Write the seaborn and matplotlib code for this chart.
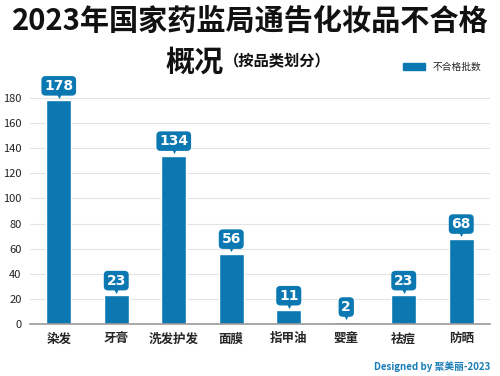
import numpy as np
import pandas as pd
import seaborn as sns
import matplotlib.pyplot as plt
import matplotlib.transforms as mtrans
from matplotlib.patches import Patch

# 数据
categories = ['染发', '牙膏', '洗发护发', '面膜', '指甲油', '婴童', '祛痘', '防晒']
counts = [178, 23, 134, 56, 11, 2, 23, 68]
yticks = [0, 20, 40, 60, 80, 100, 120, 140, 160, 180]

df = pd.DataFrame({'品类': categories, '不合格批数': counts})

bar_color = '#0b78b2'

sns.set_style('white')
plt.rcParams['font.family'] = ['Noto Sans CJK SC', 'DejaVu Sans']

fig = plt.figure(figsize=(5, 3.76), dpi=100)
ax = fig.add_axes([0.06, 0.138, 0.92, 0.635])

sns.barplot(data=df, x='品类', y='不合格批数', color=bar_color, width=0.44,
            saturation=1, ax=ax)

ax.set_ylim(0, 190)
ax.set_yticks(yticks)
ax.set_xlim(-0.5, len(categories) - 0.5)
ax.yaxis.grid(True, color='#e4e4e4', linewidth=0.8)
ax.set_axisbelow(True)
for s in ['top', 'right', 'left']:
    ax.spines[s].set_visible(False)
ax.spines['bottom'].set_color('#999999')
ax.spines['bottom'].set_linewidth(1.2)
ax.set_xlabel('')
ax.set_ylabel('')
ax.tick_params(axis='y', labelsize=8, length=0, pad=6, colors='#222222')
ax.tick_params(axis='x', labelsize=9, length=0, pad=6)
for lbl in ax.get_xticklabels():
    lbl.set_fontweight('bold')

# 数值标签 (带小三角的圆角框)
tri_tr = mtrans.offset_copy(ax.transData, fig=fig, x=0, y=3.2, units='points')
for i, v in enumerate(counts):
    ax.annotate(str(v), xy=(i, v), xytext=(0, 10.5), textcoords='offset points',
                ha='center', va='center', color='white', fontsize=10,
                fontweight='bold', family=['DejaVu Sans'],
                bbox=dict(boxstyle='round,pad=0.2,rounding_size=0.3',
                          fc=bar_color, ec='none'))
    ax.scatter([i], [v], marker='v', s=14, color=bar_color, transform=tri_tr,
               zorder=5, linewidths=0)

# 标题
fig.text(0.5, 0.945, '2023年国家药监局通告化妆品不合格', ha='center', va='center',
         fontsize=21, fontweight='heavy', color='#111111')
fig.text(0.447, 0.835, '概况', ha='right', va='center', fontsize=21,
         fontweight='heavy', color='#111111')
fig.text(0.447, 0.84, '（按品类划分）', ha='left', va='center', fontsize=11,
         fontweight='bold', color='#111111')

# 图例
ax.legend(handles=[Patch(color=bar_color, label='不合格批数')],
          loc='upper right', bbox_to_anchor=(1.0, 1.135), frameon=False,
          fontsize=7, handlelength=2.2, handleheight=0.8)

# 署名
fig.text(0.98, 0.025, 'Designed by 聚美丽-2023', ha='right', va='center',
         fontsize=7, color='#1a7db5', fontweight='bold')

fig.savefig('out.png', dpi=100)
